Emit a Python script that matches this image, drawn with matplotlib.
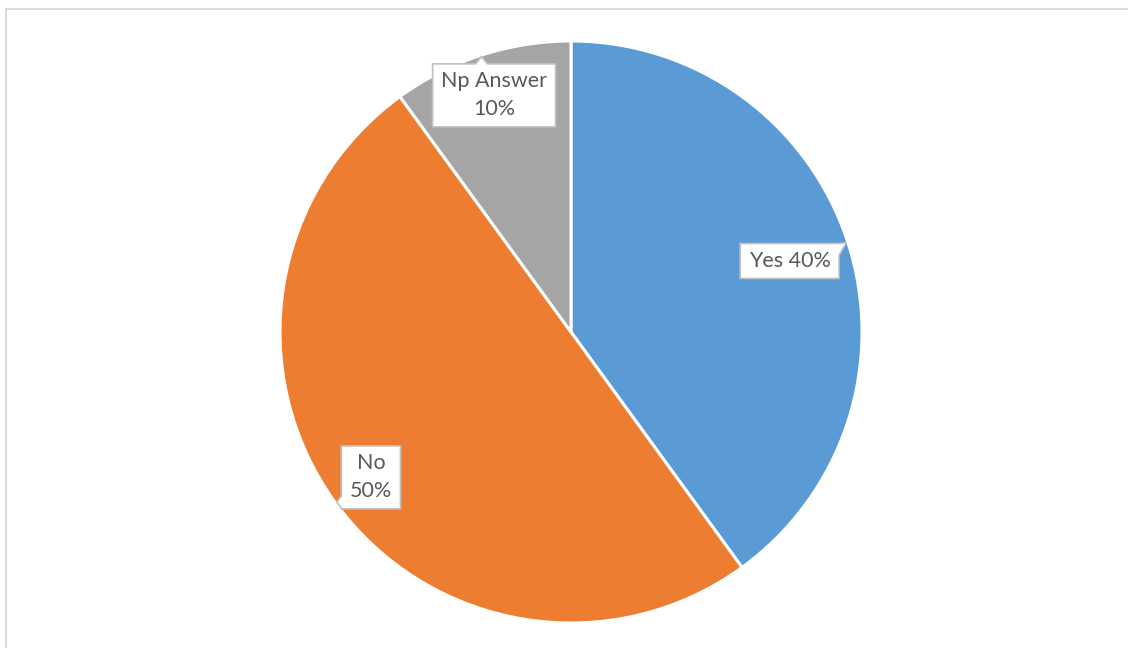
import numpy as np
import matplotlib
matplotlib.use("Agg")
import matplotlib.pyplot as plt
from matplotlib.patches import Polygon
from matplotlib.lines import Line2D
from matplotlib.transforms import IdentityTransform

# Survey answers
categories = ["Yes", "No", "Np Answer"]
values = [40, 50, 10]
label_sep = [" ", "\n", "\n"]
colors = ["#5B9BD5", "#ED7D31", "#A5A5A5"]

W, H = 1128, 648
fig = plt.figure(figsize=(W / 100, H / 100), dpi=100)
fig.patch.set_facecolor("white")

# chart-area frame
frame_c = "#d9d9d9"
fig.add_artist(Line2D([6 / W, 1.0], [1 - 9 / H, 1 - 9 / H], transform=fig.transFigure,
                      color=frame_c, lw=1.5))
fig.add_artist(Line2D([6 / W, 6 / W], [0, 1 - 9 / H], transform=fig.transFigure,
                      color=frame_c, lw=1.5))

# pie axes (square, centred in plot area)
R = 291
cx, cy = 571, H - 332
ax = fig.add_axes([(cx - R) / W, (cy - R) / H, 2 * R / W, 2 * R / H])
wedges, _ = ax.pie(values, colors=colors, startangle=90, counterclock=False,
                   radius=1, wedgeprops=dict(edgecolor="white", linewidth=2.2))
ax.set_xlim(-1, 1)
ax.set_ylim(-1, 1)
ax.set_aspect("equal")
ax.axis("off")

# callout placement (fraction of radius)
label_r = [0.79, 0.85, 0.855]
tip_r = 0.995

texts, tips = [], []
total = sum(values)
for w, cat, val, sep, lr in zip(wedges, categories, values, label_sep, label_r):
    theta = np.deg2rad((w.theta1 + w.theta2) / 2)
    pct = round(100 * val / total)
    t = ax.text(lr * np.cos(theta), lr * np.sin(theta), f"{cat}{sep}{pct}%",
                ha="center", va="center", multialignment="center",
                fontsize=15.5, family=["Lato", "DejaVu Sans"], color="#595959",
                linespacing=1.5, zorder=6, clip_on=False)
    texts.append(t)
    tips.append((tip_r * np.cos(theta), tip_r * np.sin(theta)))

fig.canvas.draw()
renderer = fig.canvas.get_renderer()


def callout(bb, tip, padx=8.5, pady=7.5, hw=6):
    x0, y0 = bb.x0 - padx, bb.y0 - pady
    x1, y1 = bb.x1 + padx, bb.y1 + pady
    tx, ty = tip
    corners = [np.array(p, float) for p in [(x0, y0), (x1, y0), (x1, y1), (x0, y1)]]
    outs = [y0 - ty, tx - x1, ty - y1, x0 - tx]
    e = int(np.argmax(outs))
    start, end = corners[e], corners[(e + 1) % 4]
    L = np.linalg.norm(end - start)
    d = (end - start) / L
    s = np.clip(np.dot(np.array(tip) - start, d), hw, L - hw)
    pts = corners[:e + 1] + [start + d * (s - hw), np.array(tip), start + d * (s + hw)] + corners[e + 1:]
    return np.array(pts)


for t, tip in zip(texts, tips):
    bb = t.get_window_extent(renderer)
    tip_px = ax.transData.transform(tip)
    pts = callout(bb, tip_px)
    box = Polygon(pts, closed=True, transform=IdentityTransform(),
                  facecolor="white", edgecolor="#bfbfbf", lw=1.2, zorder=5,
                  clip_on=False)
    ax.add_artist(box)

fig.savefig("out.png", dpi=100, facecolor="white")
